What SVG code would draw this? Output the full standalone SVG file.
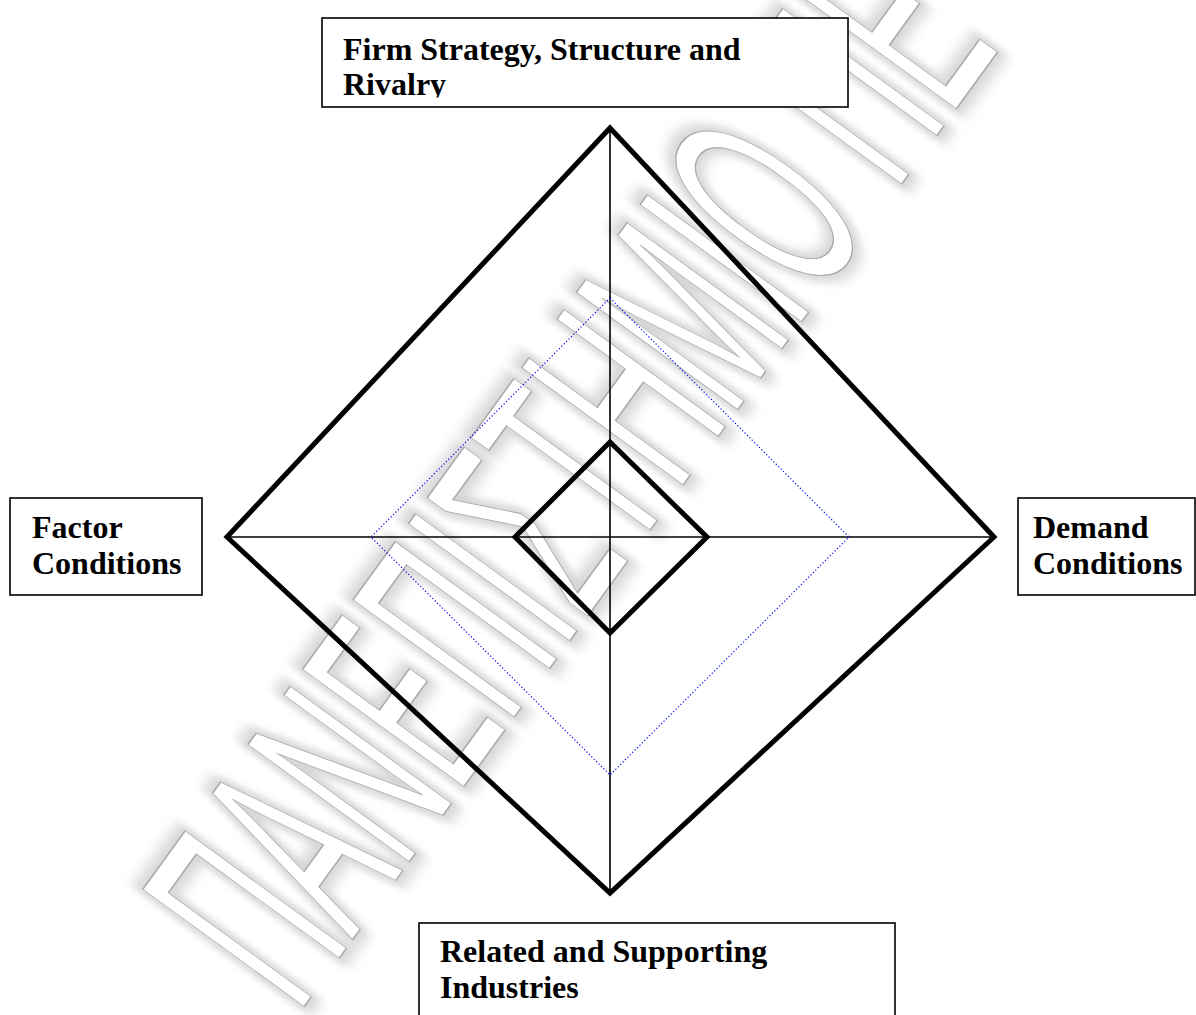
<svg xmlns="http://www.w3.org/2000/svg" width="1196" height="1015" viewBox="0 0 1196 1015">
  <style>
    .box { fill: #ffffff; stroke: #000000; stroke-width: 1.6; }
    .lbl { font-family: "Liberation Serif", "Times New Roman", serif; font-weight: bold; font-size: 32px; fill: #000000; }
    .thick { fill: none; stroke: #000000; stroke-width: 5; stroke-linejoin: miter; }
    .axis { stroke: #000000; stroke-width: 1.6; }
    .dotted { fill: none; stroke: #0000ff; stroke-width: 1.2; stroke-dasharray: 1.2 2.2; }
    .wm { font-family: "Liberation Sans", Arial, sans-serif; font-size: 290px; }
  </style>
  <defs>
    <filter id="soft" x="-10%" y="-10%" width="120%" height="120%">
      <feGaussianBlur stdDeviation="7"/>
    </filter>
    <clipPath id="clipTop">
      <rect x="322" y="18" width="526" height="79.5"/>
    </clipPath>
  </defs>
  <rect width="1196" height="1015" fill="#ffffff"/>

  <g id="watermark" transform="translate(298,1015) rotate(-54) scale(0.444,1)">
    <text class="wm" x="0" y="0" fill="none" stroke="#d6d6d6" stroke-width="20" filter="url(#soft)">ΠΑΝΕΠΙΣΤΗΜΙΟ ΠΕ</text>
    <text class="wm" x="0" y="0" fill="#ffffff" stroke="#ababab" stroke-width="1.6">ΠΑΝΕΠΙΣΤΗΜΙΟ ΠΕ</text>
  </g>

  <g id="connectors">
    <line class="axis" x1="227" y1="537" x2="994" y2="537"/>
    <line class="axis" x1="610" y1="128" x2="610" y2="893"/>
    <polygon class="dotted" points="610,298 849,537 610,775 371,537"/>
    <polygon class="thick" points="610,128 994,537 610,893 227,537"/>
    <polygon class="thick" points="610,442 707,537 610,633 515,537"/>
  </g>

  <g id="node-firm">
    <rect class="box" x="322" y="18" width="526" height="89"/>
    <g clip-path="url(#clipTop)">
      <text class="lbl" x="343" y="60">Firm Strategy, Structure and</text>
      <text class="lbl" x="343" y="95">Rivalry</text>
    </g>
  </g>

  <g id="node-factor">
    <rect class="box" x="10" y="498" width="192" height="97"/>
    <text class="lbl" x="32" y="538">Factor</text>
    <text class="lbl" x="32" y="574">Conditions</text>
  </g>

  <g id="node-demand">
    <rect class="box" x="1018" y="498" width="177" height="97"/>
    <text class="lbl" x="1033" y="538">Demand</text>
    <text class="lbl" x="1033" y="574">Conditions</text>
  </g>

  <g id="node-related">
    <rect class="box" x="419" y="923" width="476" height="100"/>
    <text class="lbl" x="440" y="962">Related and Supporting</text>
    <text class="lbl" x="440" y="998">Industries</text>
  </g>
</svg>
